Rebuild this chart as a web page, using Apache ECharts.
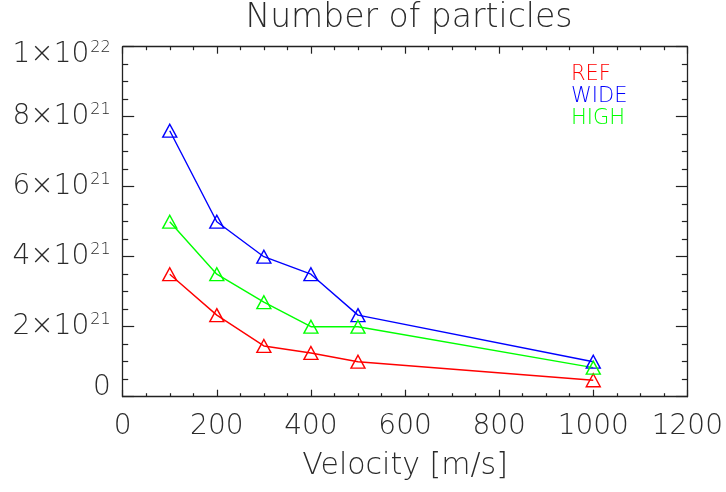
<!DOCTYPE html>
<html>
<head>
<meta charset="utf-8">
<title>Number of particles</title>
<script src="https://cdn.jsdelivr.net/npm/echarts@6/dist/echarts.min.js"></script>
<style>
  html, body { margin: 0; padding: 0; background: #fff; }
  #chart { width: 726px; height: 492px; }
</style>
</head>
<body>
<div id="chart"></div>
<script>
// Particle counts versus velocity for three set-ups
const velocities = [100, 200, 300, 400, 500, 1000];
const refCounts  = [3.5e21, 2.33e21, 1.45e21, 1.25e21, 1.0e21, 0.47e21];
const wideCounts = [7.6e21, 5.0e21, 4.0e21, 3.5e21, 2.33e21, 1.0e21];
const highCounts = [5.0e21, 3.5e21, 2.7e21, 2.0e21, 2.0e21, 0.83e21];
const seriesNames = ['REF', 'WIDE', 'HIGH'];
const seriesColors = ['#ff0000', '#0000ff', '#00ff00'];

const FONT = 'DejaVu Sans';
const INK = '#2a2a2a';
const FRAME = '#222';

function pairs(ys) { return velocities.map((v, i) => [v, ys[i]]); }

// "m×10^e" labels with a raised exponent; the end labels are nudged inside the frame
function sciLabel(value) {
  if (value === 0) return '{b|0}\n{gap|}';
  const e = Math.floor(Math.log10(value) + 1e-9);
  const m = Math.round(value / Math.pow(10, e));
  const txt = '{b|' + m + '×10}{s|' + e + '}';
  return value >= 1e22 ? '{gap|}\n' + txt : txt;
}

const labelRich = {
  b:   { fontFamily: FONT, fontWeight: 200, fontSize: 28, color: INK, lineHeight: 30 },
  s:   { fontFamily: FONT, fontWeight: 200, fontSize: 16, color: INK, lineHeight: 30, verticalAlign: 'top', padding: [0, 0, 0, 1] },
  gap: { fontSize: 1, lineHeight: 17 }
};

const chart = echarts.init(document.getElementById('chart'), null, { renderer: 'canvas' });

const xCommon = {
  type: 'value', min: 0, max: 1200, interval: 200,
  axisLine: { show: true, onZero: false, lineStyle: { color: FRAME, width: 1.3 } },
  axisTick: { show: true, inside: true, length: 7, lineStyle: { color: FRAME, width: 1.2 } },
  minorTick: { show: true, splitNumber: 4, length: 3.5, lineStyle: { color: FRAME, width: 1.2 } },
  splitLine: { show: false }
};
const yCommon = {
  type: 'value', min: 0, max: 1e22, interval: 2e21,
  axisLine: { show: true, onZero: false, lineStyle: { color: FRAME, width: 1.3 } },
  axisTick: { show: true, inside: true, length: 11.5, lineStyle: { color: FRAME, width: 1.2 } },
  minorTick: { show: true, splitNumber: 4, length: 5.5, lineStyle: { color: FRAME, width: 1.2 } },
  splitLine: { show: false }
};

chart.setOption({
  backgroundColor: '#fff',
  animation: false,
  title: {
    text: 'Number of particles',
    left: 404, top: -3, textAlign: 'center',
    textStyle: { fontFamily: FONT, fontWeight: 200, fontSize: 33, color: INK }
  },
  legend: {
    orient: 'vertical', left: 561, top: 59, itemGap: 1,
    icon: 'none', itemWidth: 0, itemHeight: 0,
    selectedMode: false,
    data: seriesNames.map((n, i) => ({ name: n, textStyle: { color: seriesColors[i] } })),
    textStyle: { fontFamily: FONT, fontWeight: 200, fontSize: 21 }
  },
  grid: { left: 122.7, right: 37, top: 46.7, bottom: 95.3 },
  xAxis: [
    Object.assign({}, xCommon, {
      position: 'bottom',
      name: 'Velocity [m/s]', nameLocation: 'middle', nameGap: 55,
      nameTextStyle: { fontFamily: FONT, fontWeight: 200, fontSize: 30, color: INK },
      axisLabel: {
        show: true, margin: 16, fontFamily: FONT, fontWeight: 200, fontSize: 28, color: INK,
        formatter: v => String(v)
      }
    }),
    Object.assign({}, xCommon, { position: 'top', axisLabel: { show: false } })
  ],
  yAxis: [
    Object.assign({}, yCommon, {
      position: 'left',
      axisLabel: { show: true, margin: 12, formatter: sciLabel, rich: labelRich }
    }),
    Object.assign({}, yCommon, { position: 'right', axisLabel: { show: false } })
  ],
  series: [refCounts, wideCounts, highCounts].map((ys, i) => ({
    name: seriesNames[i],
    type: 'line',
    data: pairs(ys),
    symbol: 'triangle',
    symbolSize: [14, 13],
    showAllSymbol: true,
    clip: false,
    lineStyle: { color: seriesColors[i], width: 1.4 },
    itemStyle: { color: 'rgba(0,0,0,0)', borderColor: seriesColors[i], borderWidth: 1.4 },
    emphasis: { disabled: true }
  }))
});
</script>
</body>
</html>
